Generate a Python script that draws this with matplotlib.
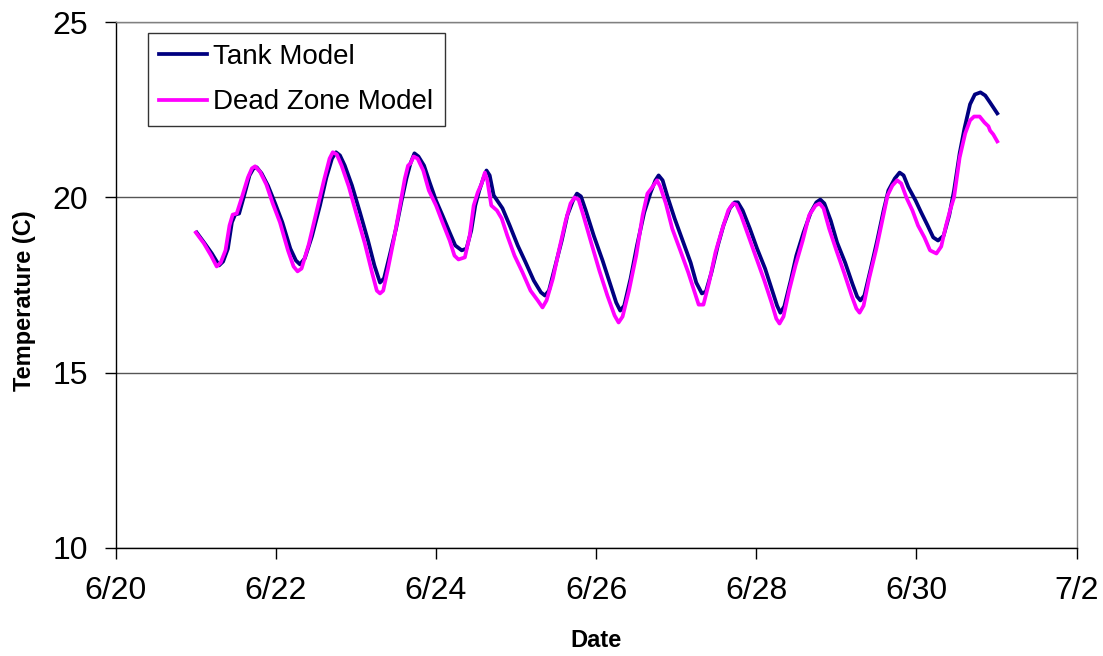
import matplotlib
matplotlib.use('Agg')
import matplotlib.pyplot as plt

plt.rcParams['font.family'] = ['Liberation Sans', 'DejaVu Sans']

# days after 6/20 00:00, temperature in C
tank_day = [1.01, 1.11, 1.20, 1.29, 1.34, 1.40, 1.45, 1.49, 1.54, 1.60, 1.67, 1.72, 1.76,
            1.82, 1.90, 1.99, 2.08, 2.18, 2.25, 2.30, 2.36, 2.45, 2.55, 2.63, 2.70, 2.75,
            2.80, 2.86, 2.95, 3.05, 3.15, 3.23, 3.30, 3.35, 3.42, 3.50, 3.57, 3.63, 3.68,
            3.73, 3.78, 3.85, 3.92, 4.00, 4.08, 4.17, 4.24, 4.32, 4.38, 4.44, 4.49, 4.54,
            4.59, 4.63, 4.67, 4.72, 4.78, 4.83, 4.92, 5.02, 5.12, 5.22, 5.31, 5.36, 5.41,
            5.48, 5.57, 5.64, 5.71, 5.76, 5.81, 5.87, 5.97, 6.08, 6.18, 6.25, 6.30, 6.35,
            6.43, 6.51, 6.60, 6.68, 6.74, 6.78, 6.83, 6.89, 6.98, 7.08, 7.18, 7.25, 7.32,
            7.37, 7.44, 7.52, 7.59, 7.67, 7.73, 7.77, 7.83, 7.92, 8.01, 8.11, 8.20, 8.26,
            8.30, 8.35, 8.43, 8.50, 8.59, 8.68, 8.75, 8.80, 8.85, 8.93, 9.01, 9.11, 9.20,
            9.26, 9.30, 9.35, 9.43, 9.51, 9.59, 9.65, 9.73, 9.79, 9.84, 9.90, 9.99, 10.06,
            10.14, 10.21, 10.27, 10.34, 10.41, 10.47, 10.54, 10.60, 10.67, 10.73, 10.80,
            10.86, 10.92, 10.96, 11.01]
tank_temp = [19.00, 18.69, 18.40, 18.06, 18.17, 18.54, 19.29, 19.51, 19.54, 20.03, 20.63,
             20.83, 20.86, 20.69, 20.34, 19.83, 19.29, 18.54, 18.20, 18.09, 18.26, 18.89,
             19.77, 20.57, 21.11, 21.29, 21.20, 20.91, 20.34, 19.57, 18.77, 18.06, 17.57,
             17.69, 18.34, 19.11, 19.91, 20.54, 20.97, 21.26, 21.17, 20.91, 20.43, 19.91,
             19.49, 19.00, 18.63, 18.49, 18.54, 19.06, 19.77, 20.20, 20.54, 20.77, 20.63,
             20.06, 19.86, 19.69, 19.20, 18.63, 18.14, 17.63, 17.29, 17.20, 17.34, 17.97,
             18.77, 19.49, 19.91, 20.11, 20.03, 19.63, 18.91, 18.20, 17.49, 17.00, 16.77,
             16.91, 17.69, 18.63, 19.57, 20.14, 20.49, 20.63, 20.49, 20.03, 19.40, 18.77,
             18.14, 17.57, 17.26, 17.31, 17.86, 18.63, 19.20, 19.69, 19.86, 19.86, 19.63,
             19.11, 18.54, 17.97, 17.34, 16.91, 16.71, 16.89, 17.63, 18.34, 19.00, 19.57,
             19.86, 19.94, 19.83, 19.34, 18.71, 18.14, 17.54, 17.17, 17.06, 17.20, 17.97,
             18.77, 19.63, 20.20, 20.54, 20.71, 20.63, 20.29, 19.91, 19.57, 19.20, 18.86,
             18.77, 18.91, 19.49, 20.20, 21.26, 21.97, 22.66, 22.94, 23.00, 22.91, 22.71,
             22.57, 22.40]

dead_day = [1.00, 1.10, 1.19, 1.26, 1.31, 1.37, 1.42, 1.46, 1.51, 1.57, 1.65, 1.70, 1.74,
            1.80, 1.88, 1.96, 2.05, 2.15, 2.22, 2.27, 2.32, 2.41, 2.51, 2.60, 2.67, 2.71,
            2.76, 2.82, 2.91, 3.01, 3.11, 3.20, 3.26, 3.30, 3.34, 3.40, 3.47, 3.55, 3.61,
            3.65, 3.68, 3.72, 3.77, 3.84, 3.91, 4.00, 4.08, 4.17, 4.23, 4.28, 4.36, 4.42,
            4.47, 4.52, 4.57, 4.61, 4.64, 4.69, 4.76, 4.82, 4.89, 4.98, 5.08, 5.18, 5.27,
            5.33, 5.38, 5.46, 5.54, 5.62, 5.68, 5.73, 5.78, 5.84, 5.94, 6.04, 6.14, 6.23,
            6.28, 6.33, 6.41, 6.50, 6.58, 6.64, 6.69, 6.76, 6.80, 6.87, 6.95, 7.05, 7.15,
            7.23, 7.28, 7.34, 7.41, 7.49, 7.57, 7.65, 7.71, 7.75, 7.81, 7.90, 8.00, 8.10,
            8.19, 8.25, 8.29, 8.34, 8.41, 8.49, 8.58, 8.66, 8.74, 8.79, 8.84, 8.91, 9.00,
            9.10, 9.19, 9.25, 9.29, 9.34, 9.41, 9.50, 9.58, 9.64, 9.70, 9.76, 9.81, 9.88,
            9.95, 10.02, 10.10, 10.17, 10.25, 10.31, 10.37, 10.42, 10.47, 10.54, 10.61,
            10.67, 10.72, 10.79, 10.85, 10.90, 10.92, 10.96, 11.01]
dead_temp = [19.00, 18.69, 18.34, 18.03, 18.14, 18.49, 19.20, 19.51, 19.54, 19.97, 20.57,
             20.83, 20.89, 20.74, 20.37, 19.83, 19.29, 18.49, 18.03, 17.89, 17.97, 18.66,
             19.63, 20.49, 21.11, 21.29, 21.23, 20.91, 20.31, 19.49, 18.69, 17.86, 17.34,
             17.26, 17.34, 17.97, 18.77, 19.77, 20.54, 20.91, 20.97, 21.17, 21.11, 20.77,
             20.20, 19.77, 19.29, 18.77, 18.34, 18.23, 18.29, 18.91, 19.77, 20.14, 20.40,
             20.71, 20.49, 19.77, 19.63, 19.40, 18.91, 18.34, 17.86, 17.34, 17.06, 16.86,
             17.06, 17.69, 18.54, 19.34, 19.83, 20.00, 19.94, 19.49, 18.69, 17.91, 17.20,
             16.63, 16.43, 16.60, 17.34, 18.34, 19.49, 20.11, 20.26, 20.49, 20.31, 19.83,
             19.11, 18.49, 17.86, 17.29, 16.94, 16.94, 17.57, 18.43, 19.06, 19.63, 19.83,
             19.80, 19.49, 18.91, 18.26, 17.63, 17.00, 16.54, 16.40, 16.60, 17.34, 18.06,
             18.77, 19.49, 19.77, 19.83, 19.69, 19.11, 18.49, 17.83, 17.20, 16.83, 16.71,
             16.91, 17.69, 18.54, 19.40, 20.06, 20.34, 20.49, 20.40, 19.97, 19.63, 19.20,
             18.86, 18.49, 18.40, 18.60, 19.20, 19.63, 20.00, 21.14, 21.83, 22.20, 22.31,
             22.31, 22.14, 22.03, 21.91, 21.80, 21.60]

tick_days = [0, 2, 4, 6, 8, 10, 12]
tick_labels = ['6/20', '6/22', '6/24', '6/26', '6/28', '6/30', '7/2']
y_ticks = [10, 15, 20, 25]

fig = plt.figure(figsize=(11.03, 6.56), dpi=100)
ax = fig.add_axes([0.105, 0.165, 0.871, 0.801])

ax.plot(tank_day, tank_temp, color='#000080', linewidth=2.7, label='Tank Model',
        solid_joinstyle='round', zorder=3)
ax.plot(dead_day, dead_temp, color='#FF00FF', linewidth=2.7, label='Dead Zone Model',
        solid_joinstyle='round', zorder=4)

ax.set_xlim(0, 12)
ax.set_ylim(10, 25)
ax.set_xticks(tick_days)
ax.set_xticklabels(tick_labels)
ax.set_yticks(y_ticks)

ax.yaxis.grid(True, color='#555555', linewidth=1.0)
ax.set_axisbelow(True)
for side in ('top', 'right'):
    ax.spines[side].set_color('#808080')
    ax.spines[side].set_linewidth(1.0)
for side in ('left', 'bottom'):
    ax.spines[side].set_color('black')
    ax.spines[side].set_linewidth(1.0)

ax.tick_params(axis='both', direction='out', length=8, width=1, labelsize=23, pad=12)
ax.tick_params(axis='y', pad=12)

ax.set_xlabel('Date', fontsize=17, fontweight='bold')
ax.set_ylabel('Temperature (C)', fontsize=17, fontweight='bold')
ax.xaxis.set_label_coords(0.5, -0.155)
ax.yaxis.set_label_coords(-0.083, 0.47)

leg = ax.legend(loc='upper left', bbox_to_anchor=(0.033, 0.98), fontsize=20,
                frameon=True, fancybox=False, edgecolor='black', handlelength=1.75,
                handletextpad=0.22, borderpad=0.4, labelspacing=0.7, borderaxespad=0)
leg.get_frame().set_linewidth(1.0)

fig.savefig('out.png', dpi=100, facecolor='white')
